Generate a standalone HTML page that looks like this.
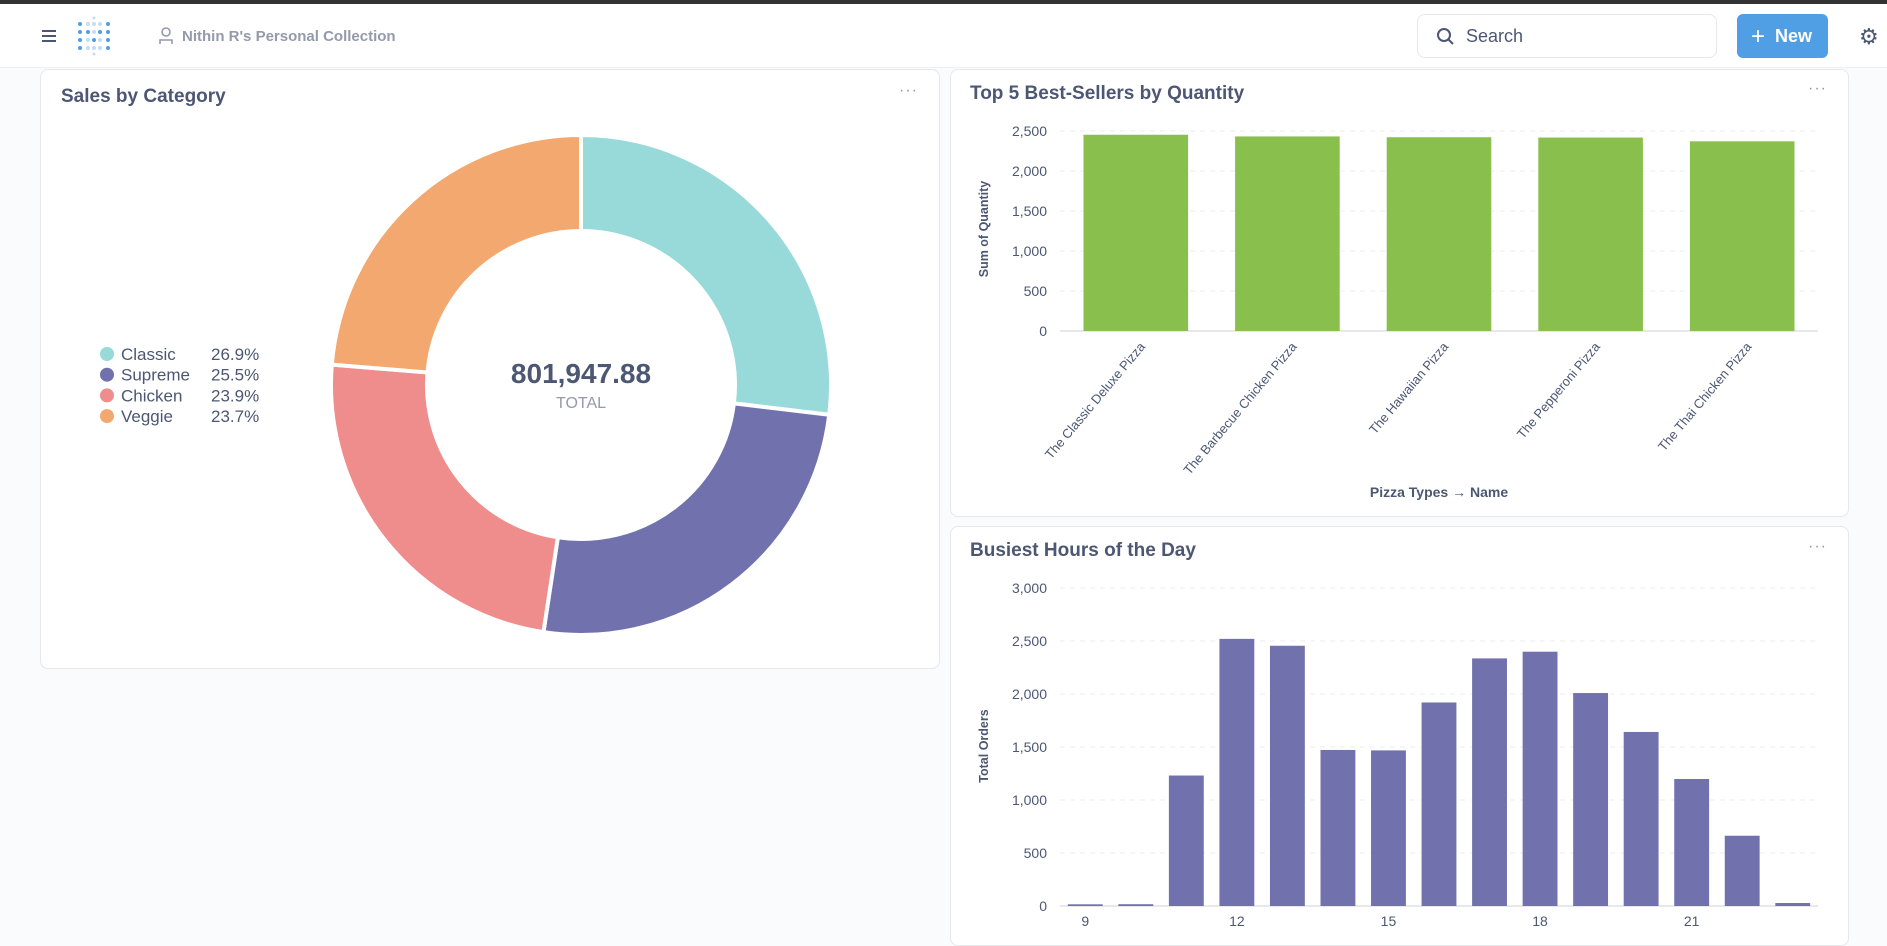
<!DOCTYPE html>
<html><head><meta charset="utf-8">
<style>
*{box-sizing:border-box;margin:0;padding:0}
body{width:1887px;height:927px;overflow:hidden;background:#f9fbfc;font-family:"Liberation Sans",sans-serif;position:relative;color:#4c5773}
.abs{position:absolute}
.card{position:absolute;background:#fff;border:1px solid #e6e8eb;border-radius:8px}
.title{position:absolute;font-weight:bold;font-size:19px;color:#4c5773}
.dots{position:absolute;color:#949aab;font-size:16px;letter-spacing:1px}
</style></head>
<body>
<div class="abs" style="left:0;top:0;width:1887px;height:4px;background:#333"></div>
<div class="abs" style="left:0;top:4px;width:1887px;height:64px;background:#fff;border-bottom:1px solid #f0f0f0"></div>
<div class="abs" style="left:42px;top:30px;width:14px;height:12px;border-top:2px solid #4c5773;border-bottom:2px solid #4c5773"><div style="margin-top:3px;height:2px;background:#4c5773"></div></div>
<svg class="abs" style="left:76px;top:16px" width="36" height="40">
<g fill="#509ee3"><circle cx="4" cy="8" r="2"/><circle cx="4" cy="16" r="2"/><circle cx="4" cy="24" r="2"/><circle cx="4" cy="32" r="2"/><circle cx="12" cy="16" r="2"/><circle cx="18" cy="24" r="2"/><circle cx="24" cy="16" r="2"/><circle cx="32" cy="8" r="2"/><circle cx="32" cy="16" r="2"/><circle cx="32" cy="24" r="2"/><circle cx="32" cy="32" r="2"/></g>
<g fill="#c5dcf5"><circle cx="12" cy="8" r="2"/><circle cx="18" cy="8" r="2"/><circle cx="24" cy="8" r="2"/><circle cx="12" cy="24" r="2"/><circle cx="24" cy="24" r="2"/><circle cx="12" cy="32" r="2"/><circle cx="18" cy="32" r="2"/><circle cx="24" cy="32" r="2"/><circle cx="18" cy="16" r="2"/><circle cx="18" cy="2" r="1.5"/><circle cx="18" cy="38" r="1.5"/></g></svg>
<svg class="abs" style="left:158px;top:27px" width="16" height="18"><circle cx="8" cy="5" r="4" fill="none" stroke="#949aab" stroke-width="1.6"/><path d="M2 17V13h12v4" fill="none" stroke="#949aab" stroke-width="1.6"/></svg>
<div class="abs" style="left:182px;top:28px;font-size:15px;font-weight:bold;color:#949aab">Nithin R's Personal Collection</div>
<div class="abs" style="left:1417px;top:14px;width:300px;height:44px;border:1px solid #e6e8eb;border-radius:8px;background:#fff">
<svg class="abs" style="left:18px;top:12px" width="20" height="20"><circle cx="8" cy="8" r="6" fill="none" stroke="#4c5773" stroke-width="2"/><path d="M12.5 12.5L17 17" stroke="#4c5773" stroke-width="2"/></svg>
<div class="abs" style="left:48px;top:11px;font-size:18px;color:#4c5773">Search</div></div>
<div class="abs" style="left:1737px;top:14px;width:91px;height:44px;background:#509ee3;border-radius:6px;color:#fff;font-weight:bold;font-size:18px;line-height:44px;padding-left:14px"><span style="font-size:24px;font-weight:normal;vertical-align:-2px">+</span>&nbsp; New</div>
<div class="abs" style="left:1859px;top:24px;font-size:22px;color:#4c5773">⚙</div>

<!-- Donut card -->
<div class="card" style="left:40px;top:69px;width:900px;height:600px"></div>
<div class="title" style="left:61px;top:86px">Sales by Category</div>
<div class="dots" style="left:899px;top:82px">···</div>
<svg class="abs" id="donut" style="left:0;top:0" width="940" height="669"></svg>

<!-- Top bar card -->
<div class="card" style="left:950px;top:69px;width:899px;height:448px"></div>
<div class="title" style="left:970px;top:83px">Top 5 Best-Sellers by Quantity</div>
<div class="dots" style="left:1808px;top:80px">···</div>
<svg class="abs" id="bar1" style="left:0;top:0" width="1887" height="927"></svg>

<!-- Bottom bar card -->
<div class="card" style="left:950px;top:526px;width:899px;height:420px"></div>
<div class="title" style="left:970px;top:540px">Busiest Hours of the Day</div>
<div class="dots" style="left:1808px;top:538px">···</div>
<svg class="abs" id="bar2" style="left:0;top:0" width="1887" height="927"></svg>

<script>
const NS="http://www.w3.org/2000/svg";
function mk(parent,tag,attrs,text){const e=document.createElementNS(NS,tag);for(const k in attrs)e.setAttribute(k,attrs[k]);if(text!==undefined)e.textContent=text;parent.appendChild(e);return e;}

// Donut data
const catNames=["Classic","Supreme","Chicken","Veggie"];
const catPct=[26.9,25.5,23.9,23.7];
const catColors=["#98d9d9","#7172ad","#ef8c8c","#f2a86f"];
const totalLabel="801,947.88";

(function(){
  const svg=document.getElementById('donut');
  const cx=581,cy=385,R=250,r=154;
  const tot=catPct.reduce((a,b)=>a+b,0);
  let a0=0;
  catPct.forEach((v,i)=>{
    const a1=a0+v/tot*Math.PI*2;
    const p=(ang,rad)=>[cx+rad*Math.sin(ang),cy-rad*Math.cos(ang)];
    const [x1,y1]=p(a0,R),[x2,y2]=p(a1,R),[x3,y3]=p(a1,r),[x4,y4]=p(a0,r);
    const lg=(a1-a0)>Math.PI?1:0;
    const s=mk(svg,'path',{d:`M${x1},${y1}A${R},${R} 0 ${lg} 1 ${x2},${y2}L${x3},${y3}A${r},${r} 0 ${lg} 0 ${x4},${y4}Z`,fill:catColors[i],stroke:'#fff','stroke-width':4});
    
    
    a0=a1;
  });
  const t=mk(svg,'text',{x:cx,y:383,'text-anchor':'middle','font-size':28,'font-weight':'bold',fill:'#4c5773'},totalLabel);
  
  
  const t2=mk(svg,'text',{x:cx,y:408,'text-anchor':'middle','font-size':16,fill:'#949aab'},'TOTAL');
  
  
  catNames.forEach((n,i)=>{
    const y=354+i*20.7;
    const g=mk(svg,'g',{});
    
    
    mk(g,'circle',{cx:107,cy:y,r:7,fill:catColors[i]});
    mk(g,'text',{x:121,y:y+6,'font-size':17,fill:'#4c5773'},n);
    mk(g,'text',{x:211,y:y+6,'font-size':17,fill:'#4c5773'},catPct[i].toFixed(1)+'%');
  });
})();

// Top sellers data
const pizzaNames=["The Classic Deluxe Pizza","The Barbecue Chicken Pizza","The Hawaiian Pizza","The Pepperoni Pizza","The Thai Chicken Pizza"];
const pizzaQty=[2453,2432,2422,2418,2371];
const qtyTicks=[0,500,1000,1500,2000,2500];

(function(){
  const svg=document.getElementById('bar1');
  const x0=1060,x1=1818,yB=331,yT=131,max=2500;
  const y=v=>yB-(v/max)*(yB-yT);
  const band=(x1-x0)/pizzaNames.length;
  qtyTicks.forEach(v=>{
    mk(svg,'line',{x1:x0,x2:x1,y1:y(v),y2:y(v),stroke:v===0?'#e6e8eb':'#eceef0','stroke-width':v===0?2:1,'stroke-dasharray':v===0?'':'5,5'});
    const t=mk(svg,'text',{x:1047,y:y(v)+5,'text-anchor':'end','font-size':14,fill:'#4c5773'},v.toLocaleString('en-US'));
    
    
  });
  pizzaNames.forEach((n,i)=>{
    const bw=band*0.69,cx=x0+band*(i+0.5);
    const b=mk(svg,'rect',{x:cx-bw/2,y:y(pizzaQty[i]),width:bw,height:yB-y(pizzaQty[i]),fill:'#88bf4d'});
    
    
    const t=mk(svg,'text',{x:cx+10,y:yB+16,'text-anchor':'end','font-size':13,fill:'#4c5773',transform:`rotate(-50 ${cx+10} ${yB+16})`},n);
    
    
  });
  const yt=mk(svg,'text',{x:988,y:229,'text-anchor':'middle','font-size':12.5,'font-weight':'bold',fill:'#4c5773',transform:'rotate(-90 988 229)'},'Sum of Quantity');
  
  
  const xt=mk(svg,'text',{x:1439,y:497,'text-anchor':'middle','font-size':14,'font-weight':'bold',fill:'#4c5773'},'Pizza Types → Name');
  
  
})();

// Busiest hours data
const hours=[9,10,11,12,13,14,15,16,17,18,19,20,21,22,23];
const orders=[16,17,1231,2520,2455,1472,1468,1920,2336,2399,2009,1642,1198,663,28];
const orderTicks=[0,500,1000,1500,2000,2500,3000];
const hourLabels=[9,12,15,18,21];

(function(){
  const svg=document.getElementById('bar2');
  const x0=1060,x1=1818,yB=906,yT=588,max=3000;
  const y=v=>yB-(v/max)*(yB-yT);
  const band=(x1-x0)/hours.length;
  const xc=h=>x0+band*(hours.indexOf(h)+0.5);
  orderTicks.forEach(v=>{
    mk(svg,'line',{x1:x0,x2:x1,y1:y(v),y2:y(v),stroke:v===0?'#e6e8eb':'#eceef0','stroke-width':v===0?2:1,'stroke-dasharray':v===0?'':'5,5'});
    const t=mk(svg,'text',{x:1047,y:y(v)+5,'text-anchor':'end','font-size':14,fill:'#4c5773'},v.toLocaleString('en-US'));
    
    
  });
  hours.forEach((h,i)=>{
    const bw=band*0.69,cx=xc(h);
    const b=mk(svg,'rect',{x:cx-bw/2,y:y(orders[i]),width:bw,height:yB-y(orders[i]),fill:'#7172ad'});
    
    
  });
  hourLabels.forEach(h=>{
    const t=mk(svg,'text',{x:xc(h),y:926,'text-anchor':'middle','font-size':14,fill:'#4c5773'},h);
    
    
  });
  const yt=mk(svg,'text',{x:988,y:746,'text-anchor':'middle','font-size':12.5,'font-weight':'bold',fill:'#4c5773',transform:'rotate(-90 988 746)'},'Total Orders');
  
  
})();
</script>
</body></html>
